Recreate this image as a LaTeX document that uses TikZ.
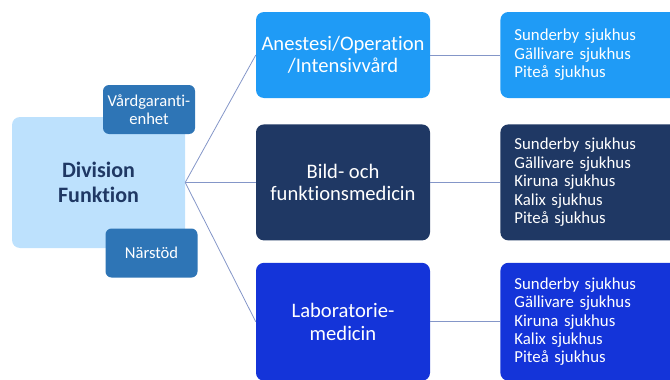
\documentclass[tikz,border=0pt]{standalone}
\usepackage{fontspec}
\setmainfont{Carlito}[Ligatures=NoCommon]
\usetikzlibrary{positioning}
\definecolor{divFill}{HTML}{BDE1FD}
\definecolor{divText}{HTML}{1F3864}
\definecolor{smallBlue}{HTML}{2E75B6}
\definecolor{anestBlue}{HTML}{1F9BF6}
\definecolor{bildNavy}{HTML}{1F3864}
\definecolor{labBlue}{HTML}{1434D9}
\definecolor{lineBlue}{HTML}{8496C8}
\tikzset{
  box/.style={rounded corners=8pt, text=white, align=center, inner sep=0pt,
    minimum width=174pt, font=\fontsize{20.6}{22.5}\selectfont},
  unitbox/.style={rounded corners=6pt, text=white, align=center, inner sep=0pt,
    fill=smallBlue, minimum width=92pt, minimum height=49pt,
    font=\fontsize{16.6}{18}\selectfont},
  sitebox/.style={rounded corners=8pt, text=white, align=left, inner xsep=14pt,
    inner ysep=0pt, text width=152pt, font=\fontsize{16.8}{18.4}\selectfont},
  link/.style={draw=lineBlue, line width=0.8pt}
}

\begin{document}
\begin{tikzpicture}[x=1pt,y=-1pt]
\useasboundingbox (0,0) rectangle (670,380);
%the division box
\node [box, fill=divFill, text=divText, minimum width=173pt, minimum height=131pt,
  font=\fontsize{22}{25}\selectfont\bfseries] (division) at (98.5,182.5) {Division\\Funktion};
\node [unitbox] (vardgaranti) at (149,109.5) {Vårdgaranti-\\enhet};
\node [unitbox] (narstod) at (151.5,253) {Närstöd};
%the middle column
\node [box, fill=anestBlue, minimum height=86pt] (anestesi) at (343,55) {Anestesi/Operation\\/Intensivvård};
\node [box, fill=bildNavy, minimum height=116pt, below=26pt of anestesi] (bild) {Bild- och\\funktionsmedicin};
\node [box, fill=labBlue, minimum height=118pt, below=22pt of bild] (lab) {Laboratorie-\\medicin};
%the hospitals
\node [sitebox, fill=anestBlue, minimum height=86pt, right=70pt of anestesi] (anestSites)
  {Sunderby sjukhus\\Gällivare sjukhus\\Piteå sjukhus};
\node [sitebox, fill=bildNavy, minimum height=116pt, right=70pt of bild] (bildSites)
  {Sunderby sjukhus\\Gällivare sjukhus\\Kiruna sjukhus\\Kalix sjukhus\\Piteå sjukhus};
\node [sitebox, fill=labBlue, minimum height=118pt, right=70pt of lab] (labSites)
  {Sunderby sjukhus\\Gällivare sjukhus\\Kiruna sjukhus\\Kalix sjukhus\\Piteå sjukhus};
%drawings of lines
\draw[link] (division.east) -- (anestesi.west);
\draw[link] (division.east) -- (bild.west);
\draw[link] (division.east) -- (lab.west);

\draw[link] (anestesi.east) -- (anestSites.west);
\draw[link] (bild.east) -- (bildSites.west);
\draw[link] (lab.east) -- (labSites.west);
\end{tikzpicture}
\end{document}
